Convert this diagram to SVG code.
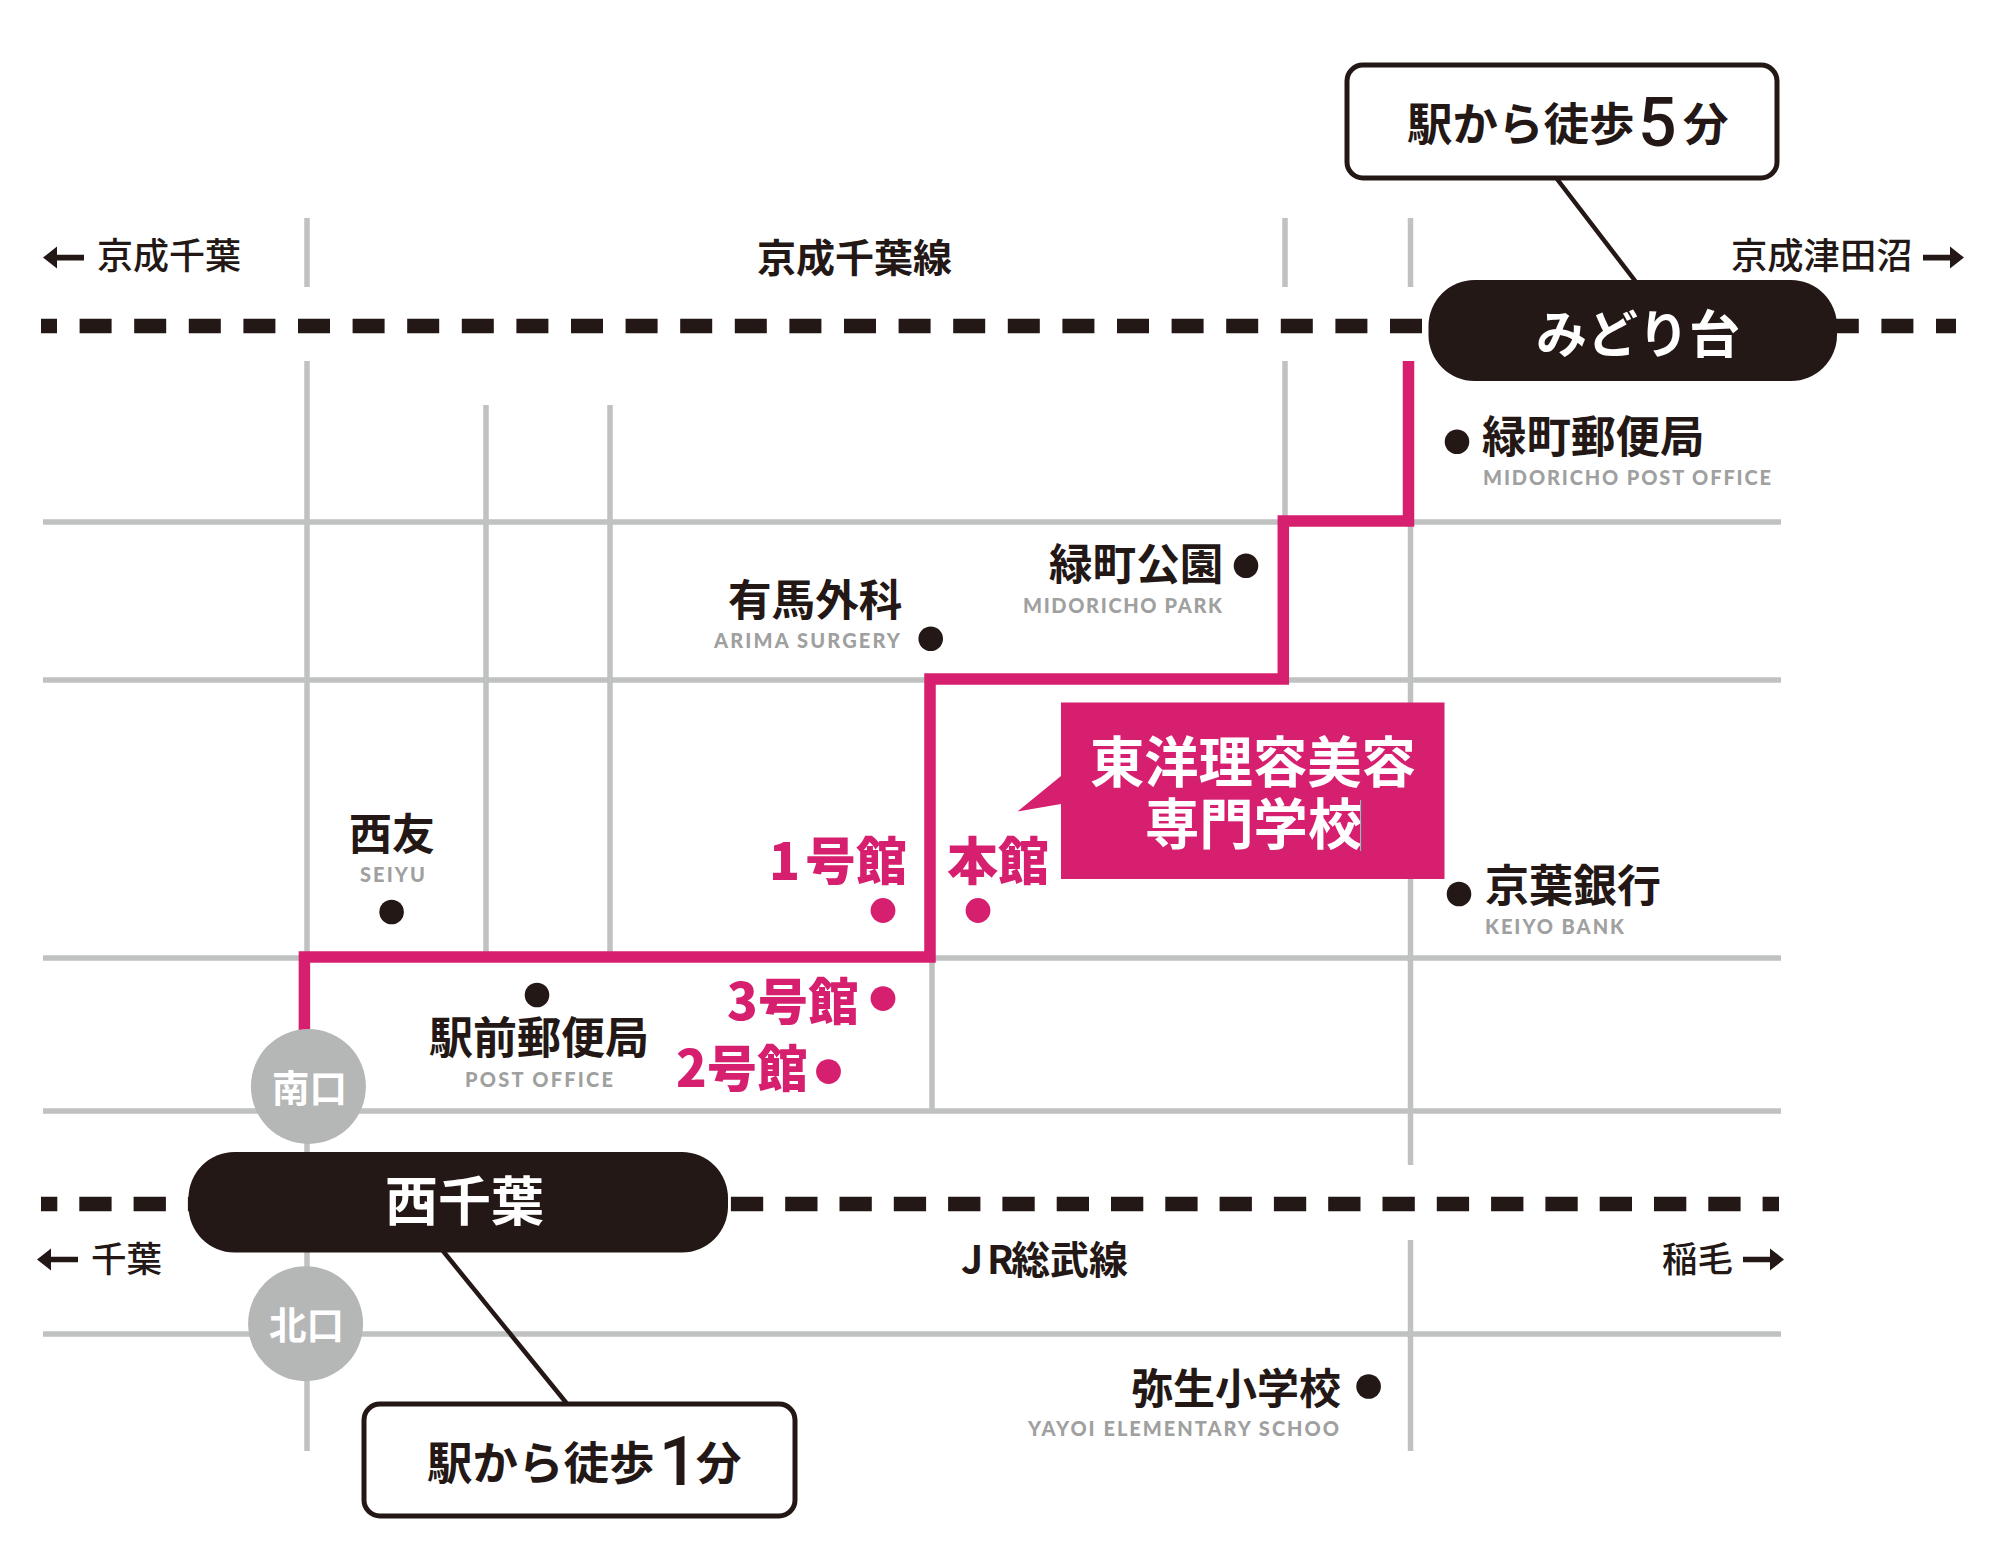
<svg xmlns="http://www.w3.org/2000/svg" width="2000" height="1541" viewBox="0 0 2000 1541">
<style>
text{font-family:"Noto Sans CJK JP","Noto Sans CJK SC",sans-serif;fill:#231815}
.b{font-weight:700}
.m{font-weight:500}
.w{fill:#fff}
.p{fill:#d61f6e;font-weight:900}
.en{font-family:"Lato","Noto Sans",sans-serif;font-weight:900;font-size:20px;fill:#9fa0a0}
.d{font-family:"Roboto","Liberation Sans",sans-serif;font-weight:500}
.road{stroke:#c0c1c1;stroke-width:5.5;fill:none}
.rail{stroke:#231815;stroke-width:14.4;fill:none}
.dot{fill:#231815}
.pdot{fill:#d61f6e}
.box{fill:#fff;stroke:#231815;stroke-width:5}
.lead{stroke:#231815;stroke-width:4.5;fill:none}
.arr{fill:#231815}
.gate{fill:#b5b6b6}
</style>
<defs>
<path id="arr" d="M0-2.8H27V-11L41 0L27 11V2.8H0Z"/>
</defs>
<g id="roads">
<path class="road" d="M43 522H1781M43 680H1781M43 958H1781M43 1111H1781M43 1334H1781"/>
<path class="road" d="M307 218V287M307 361V1451M486 405V958M610 405V958M932 958V1111M1285 218V287M1285 361V680M1410.5 218V287M1410.5 361V1165M1410.5 1240V1451"/>
</g>
<g id="connectors">
<path class="rail" stroke-dasharray="32 22.6" stroke-dashoffset="16" d="M41 326H1956"/>
<path class="rail" stroke-dasharray="32.3 22" stroke-dashoffset="16" d="M41 1204H1779"/>
<path id="route" d="M304.4 1032V957H930V679H1283.3V521H1408.5V361" fill="none" stroke="#d61f6e" stroke-width="11.5"/>
<path class="lead" d="M1557 179L1636 282"/>
<path class="lead" d="M443 1251L566.4 1403"/>
</g>
<g id="station-midoridai">
<rect x="1428.5" y="280" width="408.5" height="101" rx="46" fill="#231815"/>
<text class="b w" x="1536" y="353" font-size="51">みどり台</text>
</g>
<g id="station-nishichiba">
<rect x="188.5" y="1152" width="539.5" height="100.5" rx="46" fill="#231815"/>
<text class="b w" x="385" y="1221" font-size="53">西千葉</text>
</g>
<g id="gate-south">
<circle class="gate" cx="308.4" cy="1086.5" r="57.5"/>
<text class="b w" x="272" y="1102" font-size="37.5">南口</text>
</g>
<g id="gate-north">
<circle class="gate" cx="305.6" cy="1323.7" r="57.5"/>
<text class="b w" x="269" y="1339" font-size="37.5">北口</text>
</g>
<g id="walk-5">
<rect class="box" x="1347" y="65" width="430" height="113" rx="16"/>
<text class="b" x="1407" y="141" font-size="45.5">駅から徒歩<tspan class="d" x="1638" y="145.500" font-size="68">5</tspan><tspan class="b" x="1683" y="141" font-size="45.5">分</tspan></text>
</g>
<g id="walk-1">
<rect class="box" x="364" y="1404" width="431" height="112" rx="16"/>
<text class="b" x="427" y="1480" font-size="45.5">駅から徒歩<tspan class="d" x="659" y="1485" font-size="68">1</tspan><tspan class="b" x="696" y="1480" font-size="45.5">分</tspan></text>
</g>
<g id="school">
<path d="M1061 702.5H1444.5V879H1061V804L1017.5 811.5L1061 776Z" fill="#d61f6e"/>
<text class="b w" x="1090" y="782" font-size="54.300">東洋理容美容</text>
<text class="b w" x="1145" y="844" font-size="54.300">専門学校</text>
<path d="M1360.6 800V851" stroke="#7fd0c0" stroke-width="1" fill="none"/>
</g>
<g id="label-keisei-chiba">
<use href="#arr" class="arr" transform="translate(84 257.6) scale(-1 1)"/>
<text class="m" x="97" y="269" font-size="36">京成千葉</text>
</g>
<g id="label-keisei-line"><text class="b" x="757" y="272" font-size="39">京成千葉線</text></g>
<g id="label-keisei-tsudanuma">
<text class="m" x="1731" y="269" font-size="36.300">京成津田沼</text>
<use href="#arr" class="arr" transform="translate(1923 257.6)"/>
</g>
<g id="label-chiba">
<use href="#arr" class="arr" transform="translate(78 1259.5) scale(-1 1)"/>
<text class="m" x="91" y="1272" font-size="35.500">千葉</text>
</g>
<g id="label-jr"><text class="b" x="961" y="1274" font-size="39">J<tspan x="987">R</tspan><tspan x="1011">総武線</tspan></text></g>
<g id="label-inage">
<text class="m" x="1662" y="1272" font-size="35.500">稲毛</text>
<use href="#arr" class="arr" transform="translate(1743 1259.5)"/>
</g>
<g id="poi-midoricho-post">
<circle class="dot" cx="1457" cy="441.7" r="12.3"/>
<text class="b" x="1482" y="453" font-size="44.500">緑町郵便局</text>
<text class="en" x="1483" y="485" textLength="288">MIDORICHO POST OFFICE</text>
</g>
<g id="poi-midoricho-park">
<circle class="dot" cx="1246" cy="565.7" r="12.3"/>
<text class="b" x="1049" y="580" font-size="43.600">緑町公園</text>
<text class="en" x="1023" y="612.500" textLength="199">MIDORICHO PARK</text>
</g>
<g id="poi-arima">
<circle class="dot" cx="930.7" cy="638.7" r="12.3"/>
<text class="b" x="728" y="616" font-size="43.600">有馬外科</text>
<text class="en" x="714" y="647.500" textLength="186">ARIMA SURGERY</text>
</g>
<g id="poi-seiyu">
<circle class="dot" cx="391.6" cy="912" r="12.3"/>
<text class="b" x="349" y="850" font-size="43">西友</text>
<text class="en" x="360" y="882" textLength="65">SEIYU</text>
</g>
<g id="poi-keiyo">
<circle class="dot" cx="1459" cy="894" r="12.3"/>
<text class="b" x="1485" y="902" font-size="44">京葉銀行</text>
<text class="en" x="1485" y="934" textLength="139">KEIYO BANK</text>
</g>
<g id="poi-ekimae-post">
<circle class="dot" cx="537" cy="995" r="12.3"/>
<text class="b" x="429" y="1054" font-size="44">駅前郵便局</text>
<text class="en" x="465" y="1086.500" textLength="148">POST OFFICE</text>
</g>
<g id="poi-yayoi">
<circle class="dot" cx="1368.6" cy="1386.5" r="12.3"/>
<text class="b" x="1131" y="1404" font-size="42">弥生小学校</text>
<text class="en" x="1028" y="1435.500" textLength="311">YAYOI ELEMENTARY SCHOO</text>
</g>
<g id="bldg-1">
<circle class="pdot" cx="883" cy="910.5" r="12.4"/>
<text class="p" x="769" y="880" font-size="51">1<tspan x="805">号館</tspan></text>
</g>
<g id="bldg-main">
<circle class="pdot" cx="978" cy="910.5" r="12.4"/>
<text class="p" x="947" y="880" font-size="51">本館</text>
</g>
<g id="bldg-3">
<circle class="pdot" cx="883" cy="998.6" r="12.4"/>
<text class="p" x="727" y="1020" font-size="50.500">3号館</text>
</g>
<g id="bldg-2">
<circle class="pdot" cx="828.5" cy="1071.6" r="12.4"/>
<text class="p" x="676" y="1087" font-size="50.500">2号館</text>
</g>
</svg>
